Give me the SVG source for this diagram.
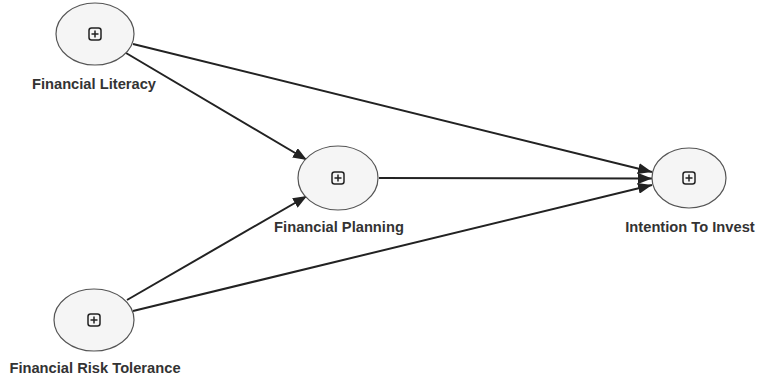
<svg xmlns="http://www.w3.org/2000/svg" width="757" height="376" viewBox="0 0 757 376">
<style>
.node{fill:#f5f5f5;stroke:#555;stroke-width:1.2}
.lbl{font-family:"Liberation Sans",Arial,sans-serif;font-weight:bold;font-size:14.7px;fill:#333;text-anchor:middle}
.icon{fill:none;stroke:#222;stroke-width:1.5}
.edge{stroke:#222;stroke-width:2;fill:none;marker-end:url(#arr)}
</style>
<defs>
<marker id="arr" viewBox="0 0 14 11" refX="14" refY="5.5" markerWidth="14" markerHeight="11" markerUnits="userSpaceOnUse" orient="auto">
<path d="M0,0 L14,5.5 L0,11 z" fill="#222"/>
</marker>
<g id="plus">
<rect x="-6" y="-6" width="12" height="12" rx="2.5" class="icon"/>
<path d="M-3.5,0 H3.5 M0,-3.5 V3.5" class="icon"/>
</g>
</defs>
<g id="connectors">
<line x1="133" y1="44" x2="652" y2="172" class="edge"/>
<line x1="126" y1="53" x2="307" y2="160" class="edge"/>
<line x1="127" y1="300" x2="307" y2="196" class="edge"/>
<line x1="133" y1="311" x2="652" y2="185" class="edge"/>
<line x1="379" y1="178" x2="652" y2="178.5" class="edge"/>
</g>
<g id="financial-literacy">
<ellipse cx="95" cy="34" rx="39" ry="31" class="node"/>
<use href="#plus" x="95" y="34"/>
<text x="94" y="89" class="lbl">Financial Literacy</text>
</g>
<g id="financial-planning">
<ellipse cx="338" cy="178" rx="40" ry="32" class="node"/>
<use href="#plus" x="338" y="178"/>
<text x="339" y="232" class="lbl">Financial Planning</text>
</g>
<g id="intention-to-invest">
<ellipse cx="689" cy="178" rx="37" ry="30" class="node"/>
<use href="#plus" x="689" y="178"/>
<text x="690" y="232" class="lbl">Intention To Invest</text>
</g>
<g id="financial-risk-tolerance">
<ellipse cx="94" cy="320" rx="40" ry="31" class="node"/>
<use href="#plus" x="94" y="320"/>
<text x="95" y="373" class="lbl">Financial Risk Tolerance</text>
</g>
</svg>
